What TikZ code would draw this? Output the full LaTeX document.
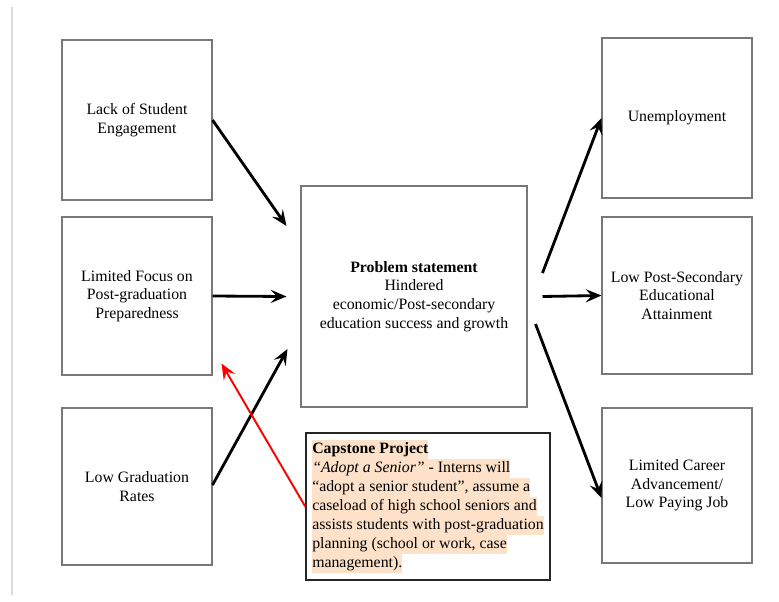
\documentclass[tikz,border=0pt]{standalone}
\usepackage{fontspec}
\setmainfont{Liberation Serif}
\usepackage{xcolor}
\usepackage{tikz}
\usetikzlibrary{arrows.meta,calc}
\definecolor{boxgray}{RGB}{120,120,120}
\definecolor{hlpeach}{RGB}{253,226,201}
\definecolor{rulegray}{RGB}{218,218,218}
\newcommand{\hlline}[1]{{\setlength{\fboxsep}{0pt}\colorbox{hlpeach}{\vrule height 7.9pt depth 2.9pt width 0pt #1}}}

\begin{document}
\begin{tikzpicture}[x=0.02cm,y=-0.02cm,
        box/.style={draw=boxgray, line width=0.6pt, minimum width=3cm, align=center, font=\fontsize{9}{10.6}\selectfont},
        arr/.style={-{Stealth[length=9pt,width=7.5pt,inset=3.5pt]}, line width=1.6pt},
    ]
                \useasboundingbox (0,0) rectangle (779,602);
                \draw[rulegray, line width=0.6pt](12,7) -- (12,595);
                \node[box, minimum height=3.2cm] (lack) at (137,120) {Lack of Student\\Engagement};
                \node[box, minimum height=3.16cm] (focus) at (137,296) {Limited Focus on\\Post-graduation\\Preparedness};
                \node[box, minimum height=3.14cm] (grad) at (137,486.5) {Low Graduation\\Rates};
                \node[box, minimum width=4.52cm, minimum height=4.42cm] (problem) at (414,296.5) {\textbf{Problem statement}\\Hindered\\economic/Post-secondary\\education success and growth};
                \node[box, minimum height=3.2cm] (unemp) at (677,118) {Unemployment};
                \node[box, minimum height=3.14cm] (attain) at (677,295.5) {Low Post-Secondary\\Educational\\Attainment};
                \node[box, minimum height=3.1cm] (career) at (677,485.5) {Limited Career\\Advancement/\\Low Paying Job};
                \node[draw=black!85, line width=0.9pt, minimum width=4.88cm, minimum height=2.94cm, align=left, inner sep=2pt, font=\fontsize{9}{10.8}\selectfont] (capstone) at (428,506.5) {\hlline{\textbf{Capstone Project}}\\
                    \hlline{\textit{“Adopt a Senior”} - Interns will}\\
                    \hlline{“adopt a senior student”, assume a}\\
                    \hlline{caseload of high school seniors and}\\
                    \hlline{assists students with post-graduation}\\
                    \hlline{planning (school or work, case}\\
                    \hlline{management).}};
                \draw[arr](lack.east) -- ($(problem.west)+(-14,-70.5)$);
                \draw[arr](focus.east) -- ($(problem.west)+(-14,0)$);
                \draw[arr]($(grad.east)+(0,-1.5)$) -- ($(problem.west)+(-13,52.5)$);
                \draw[arr]($(problem.east)+(15,-23.5)$) -- (unemp.west);
                \draw[arr]($(problem.east)+(15,0)$) -- (attain.west);
                \draw[arr]($(problem.east)+(8,27.5)$) -- ($(career.west)+(0,12.5)$);
                \draw[red, line width=1.1pt, -{Stealth[length=9pt,width=7.5pt,inset=3.5pt]}](capstone.west) -- ($(focus.south east)+(9,-12)$);
            \end{tikzpicture}
\end{document}
